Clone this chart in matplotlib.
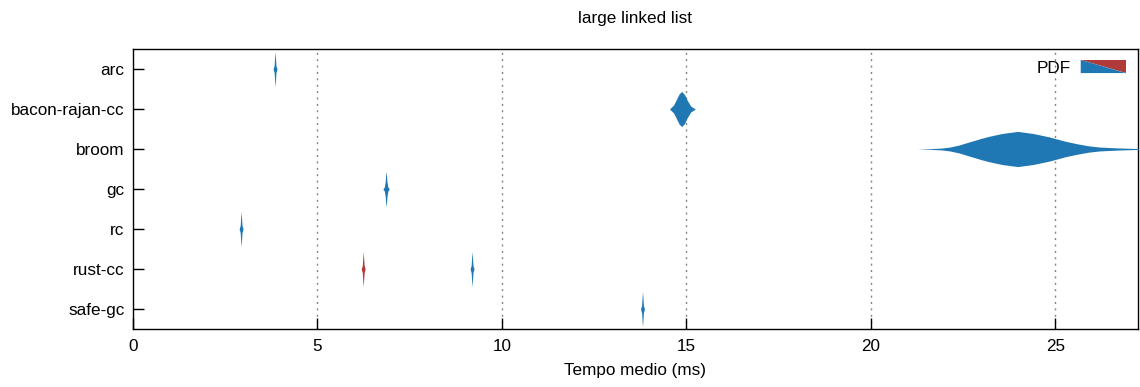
import matplotlib
matplotlib.use("Agg")
import matplotlib.pyplot as plt
from matplotlib.patches import Polygon
import numpy as np

plt.rcParams['font.family'] = ['Liberation Sans', 'DejaVu Sans']

title = "large linked list"
xlabel = "Tempo medio (ms)"
categories = ["arc", "bacon-rajan-cc", "broom", "gc", "rc", "rust-cc", "safe-gc"]
x_ticks = [0, 5, 10, 15, 20, 25]
legend_label = "PDF"

# Violin outlines: sample times (ms) and relative density (0..1)
arc_t = [3.80, 3.825, 3.84, 3.85, 3.86, 3.875, 3.90]
arc_d = [0.03, 0.2, 0.7, 1.0, 0.7, 0.2, 0.03]

bacon_t = [14.55, 14.65, 14.73, 14.80, 14.87, 14.95, 15.02, 15.12, 15.23]
bacon_d = [0.02, 0.22, 0.55, 0.85, 1.0, 0.82, 0.5, 0.16, 0.02]

broom_t = [21.26, 21.6, 21.9, 22.14, 22.4, 22.6, 23.0, 23.2, 23.55, 23.98, 24.4, 24.85,
           25.25, 25.58, 25.9, 26.2, 26.7, 27.1, 27.3]
broom_d = [0.0, 0.02, 0.05, 0.11, 0.23, 0.36, 0.61, 0.72, 0.88, 1.0, 0.88, 0.68,
           0.45, 0.3, 0.18, 0.11, 0.06, 0.035, 0.02]

gc_t = [6.78, 6.81, 6.835, 6.85, 6.86, 6.87, 6.885, 6.91, 6.94]
gc_d = [0.03, 0.1, 0.4, 0.8, 1.0, 0.8, 0.4, 0.1, 0.03]

rc_t = [2.88, 2.905, 2.92, 2.93, 2.94, 2.955, 2.98]
rc_d = [0.03, 0.2, 0.7, 1.0, 0.7, 0.2, 0.03]

rustcc_red_t = [6.19, 6.215, 6.23, 6.24, 6.25, 6.265, 6.29]
rustcc_red_d = [0.03, 0.2, 0.7, 1.0, 0.7, 0.2, 0.03]

rustcc_blue_t = [9.14, 9.165, 9.18, 9.19, 9.20, 9.215, 9.24]
rustcc_blue_d = [0.03, 0.2, 0.7, 1.0, 0.7, 0.2, 0.03]

safegc_t = [13.76, 13.785, 13.80, 13.81, 13.82, 13.835, 13.86]
safegc_d = [0.03, 0.2, 0.7, 1.0, 0.7, 0.2, 0.03]

BLUE = "#1f78b4"
RED = "#b03a3a"

violins = [
    ("arc", arc_t, arc_d, BLUE),
    ("bacon-rajan-cc", bacon_t, bacon_d, BLUE),
    ("broom", broom_t, broom_d, BLUE),
    ("gc", gc_t, gc_d, BLUE),
    ("rc", rc_t, rc_d, BLUE),
    ("rust-cc", rustcc_red_t, rustcc_red_d, RED),
    ("rust-cc", rustcc_blue_t, rustcc_blue_d, BLUE),
    ("safe-gc", safegc_t, safegc_d, BLUE),
]

FS = 12.3
fig = plt.figure(figsize=(11.4, 3.87), dpi=100)
ax = fig.add_axes([133/1140, 1-329/387, 1005/1140, 280/387])

half = 0.44
for name, t, d, col in violins:
    row = categories.index(name)
    t = np.asarray(t, dtype=float)
    h = np.asarray(d, dtype=float) * half
    ax.fill_between(t, row - h, row + h, color=col, linewidth=0, zorder=3)

ax.set_xlim(0, 27.24)
ax.set_ylim(len(categories) - 0.5, -0.5)
ax.set_yticks(range(len(categories)))
ax.set_yticklabels(categories, fontsize=FS)
ax.set_xticks(x_ticks)
ax.set_xticklabels([str(v) for v in x_ticks], fontsize=FS)
ax.tick_params(direction="in", length=8, width=1, color="black")
ax.tick_params(axis="y", pad=6)
ax.tick_params(axis="x", pad=7)
for v in x_ticks[1:]:
    ax.axvline(v, color="#808080", linestyle=(0, (1.4, 3.2)), linewidth=1, zorder=1)
for s in ax.spines.values():
    s.set_linewidth(1)
    s.set_color("black")

ax.set_xlabel(xlabel, fontsize=FS, labelpad=7)
ax.set_title(title, fontsize=FS, pad=19)

# legend
ax.text(0.933, 0.932, legend_label, transform=ax.transAxes, ha="right", va="center", fontsize=FS)
x0, x1, y0, y1 = 0.943, 0.988, 0.914, 0.961
ax.add_patch(Polygon([[x0, y1], [x1, y1], [x1, y0]], closed=True, transform=ax.transAxes,
                     facecolor=RED, edgecolor="none", zorder=5))
ax.add_patch(Polygon([[x0, y1], [x1, y0], [x0, y0]], closed=True, transform=ax.transAxes,
                     facecolor=BLUE, edgecolor="none", zorder=5))

fig.savefig("out.png", dpi=100)
